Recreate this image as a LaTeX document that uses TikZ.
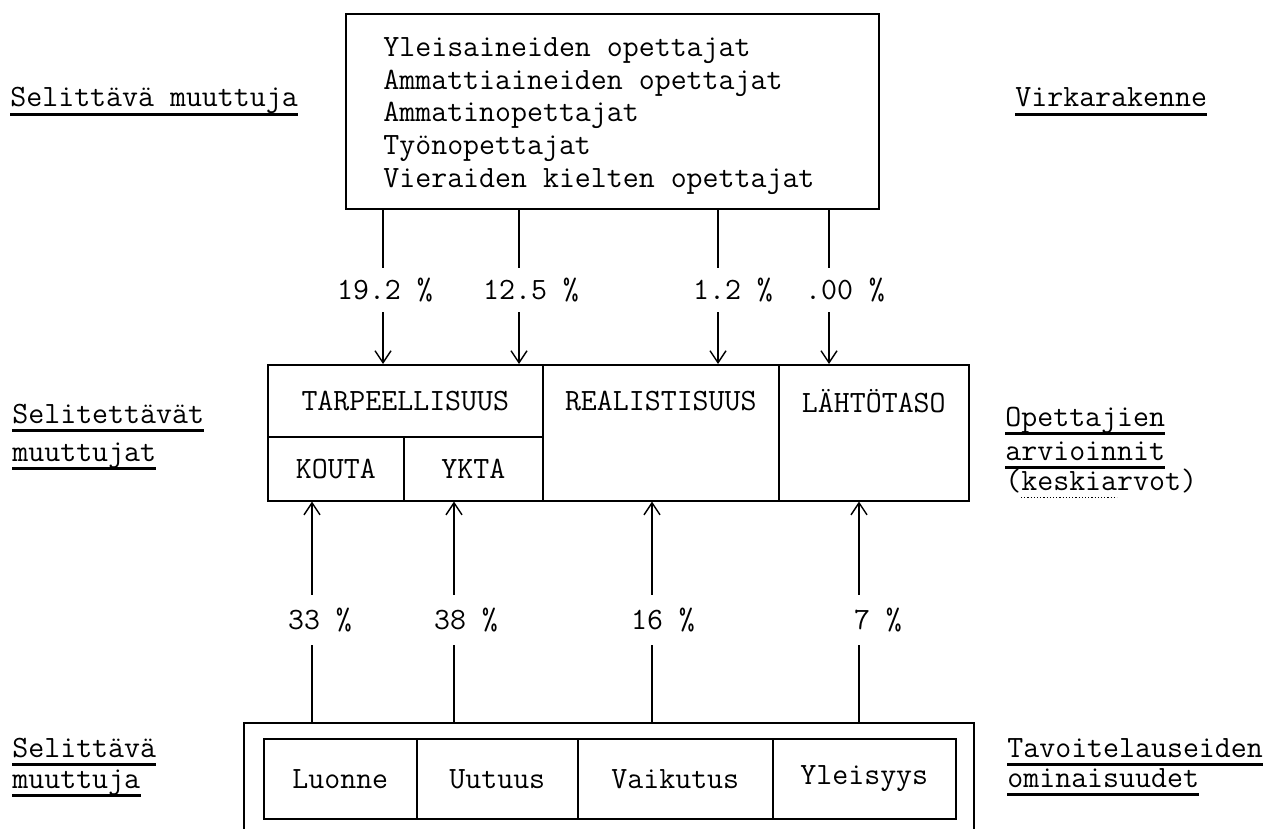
\documentclass[tikz,border=0pt]{standalone}
\usetikzlibrary{arrows.meta}

\tikzset{
  txt/.style={font=\fontsize{15.5}{18}\selectfont\ttfamily},
  lab/.style={txt, inner sep=0pt, anchor=base west, text depth=3.5pt},
  cell/.style={txt, draw, line width=0.8pt, anchor=north west, inner sep=0pt},
  pct/.style={txt, inner sep=0pt},
  stem/.style={line width=0.7pt},
  arr/.style={stem, -{Straight Barb[length=6pt,width=8pt]}},
  uline/.style={line width=1.2pt}
}

\begin{document}
\begin{tikzpicture}[x=0.5pt, y=-0.5pt]
    \useasboundingbox (0,0) rectangle (1263,829);

    % virkarakenne
    \node[cell, minimum width=266.5pt, minimum height=97.5pt] (virka) at (345,13) {};
    \foreach \t [count=\i] in {Yleisaineiden opettajat, Ammattiaineiden opettajat,
        Ammatinopettajat, Työnopettajat, Vieraiden kielten opettajat}
        \node[txt, inner sep=0pt, anchor=base west] (rivi\i) at (383, {57+32.5*(\i-1)}) {\t};

    % opettajien arvioinnit
    \node[cell, minimum width=137.5pt, minimum height=36pt] (tarp) at (267,364) {TARPEELLISUUS};
    \node[cell, minimum width=68pt, minimum height=32pt] (kouta) at (267,436) {KOUTA};
    \node[cell, minimum width=69.5pt, minimum height=32pt] (ykta) at (403,436) {YKTA};
    \node[cell, minimum width=118pt, minimum height=68pt] (real) at (542,364) {};
    \node[cell, minimum width=95pt, minimum height=68pt] (lahto) at (778,364) {};
    \node[txt] (realtxt) at (real.north |- tarp.center) {REALISTISUUS};
    \node[txt] (lahtotxt) at (lahto.north |- tarp.center) {LÄHTÖTASO};

    % tavoitelauseiden ominaisuudet
    \node[anchor=north west, inner sep=0pt, minimum width=364.5pt, minimum height=53pt] (tavo) at (244,723) {};
    \draw[line width=0.8pt] (tavo.south west) -- (tavo.north west) -- (tavo.north east) -- (tavo.south east);
    \node[cell, minimum width=76.5pt, minimum height=40pt] (luonne) at (263,738) {Luonne};
    \node[cell, minimum width=80.5pt, minimum height=40pt] (uutuus) at (416,738) {Uutuus};
    \node[cell, minimum width=97.5pt, minimum height=40pt] (vaikutus) at (577,738) {Vaikutus};
    \node[cell, minimum width=91.5pt, minimum height=40pt] (yleisyys) at (772,738) {Yleisyys};

    % sivuotsikot
    \node[lab] (selA) at (10,107) {Selittävä muuttuja};
    \node[lab] (virk) at (1015,107) {Virkarakenne};
    \node[lab] (selB) at (12,423) {Selitettävät};
    \node[lab] (selC) at (12,461) {muuttujat};
    \node[lab] (opA) at (1005,426) {Opettajien};
    \node[lab] (opB) at (1005,460) {arvioinnit};
    \node[lab] (opC) at (1005,490) {(keskiarvot)};
    \node[lab] (selD) at (12,757) {Selittävä};
    \node[lab] (selE) at (12,788) {muuttuja};
    \node[lab] (tavA) at (1007,757) {Tavoitelauseiden};
    \node[lab] (tavB) at (1007,787) {ominaisuudet};
    \foreach \n in {selA,virk,selB,selC,opA,opB,selD,selE,tavA,tavB}
        \draw[uline] (\n.south west) -- (\n.south east);
    \draw[densely dotted, line width=0.6pt] ([xshift=8pt]opC.south west) -- ([xshift=56pt]opC.south west);

    % osuudet ylhaalla
    \coordinate (a1) at (383,208);
    \coordinate (a2) at (519,208);
    \coordinate (a3) at (718,208);
    \coordinate (a4) at (829,208);
    \node[pct, minimum height=22pt] (p1) at (385,290) {19.2 \%};
    \node[pct, minimum height=22pt] (p2) at (531,290) {12.5 \%};
    \node[pct, minimum height=22pt] (p3) at (733,290) {1.2 \%};
    \node[pct, minimum height=22pt] (p4) at (845,290) {.00 \%};
    \foreach \i/\c in {1/tarp,2/tarp,3/real,4/lahto} {
        \draw[stem] (a\i) -- (a\i |- p\i.north);
        \draw[arr] (a\i |- p\i.south) -- (a\i |- \c.north);
    }

    % osuudet alhaalla
    \coordinate (b1) at (312,723);
    \coordinate (b2) at (454,723);
    \coordinate (b3) at (652,723);
    \coordinate (b4) at (859,723);
    \node[pct, minimum height=25pt] (q1) at (320,620) {33 \%};
    \node[pct, minimum height=25pt] (q2) at (466,620) {38 \%};
    \node[pct, minimum height=25pt] (q3) at (663,620) {16 \%};
    \node[pct, minimum height=25pt] (q4) at (878,620) {7 \%};
    \foreach \i/\c in {1/kouta,2/ykta,3/real,4/lahto} {
        \draw[stem] (b\i) -- (b\i |- q\i.south);
        \draw[arr] (b\i |- q\i.north) -- (b\i |- \c.south);
    }
\end{tikzpicture}
\end{document}
